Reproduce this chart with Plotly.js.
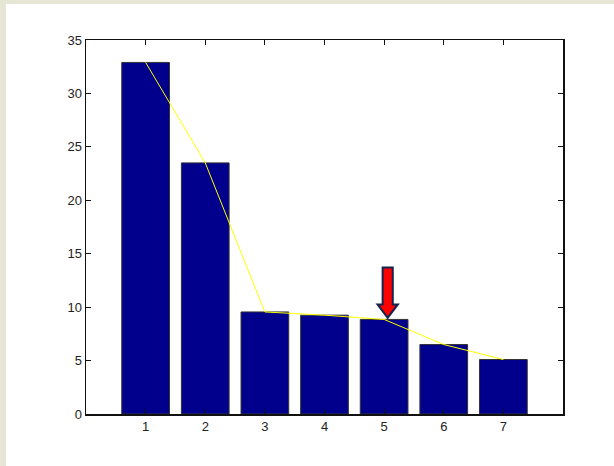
<!DOCTYPE html>
<html>
<head>
<meta charset="utf-8">
<script src="https://cdn.plot.ly/plotly-3.0.1.min.js"></script>
<style>
  html, body { margin: 0; padding: 0; background: #e6e6d4; width: 614px; height: 466px; overflow: hidden; }
  #chart { position: absolute; left: 6px; top: 4px; width: 608px; height: 462px; background: #ffffff; }
</style>
</head>
<body>
<div id="chart"></div>
<script>
// Data
const categories = [1, 2, 3, 4, 5, 6, 7];
const values = [32.9, 23.5, 9.55, 9.25, 8.85, 6.5, 5.1];
const xTicks = [1, 2, 3, 4, 5, 6, 7];
const yTicks = [0, 5, 10, 15, 20, 25, 30, 35];

// Arrow annotation (pointing at bar 5)
const arrowX = 5.06;
const arrowTip = 9.0;
const arrowHeadBase = 10.25;
const arrowTop = 13.7;
const shaftHalf = 0.085;
const headHalf = 0.17;

const arrowPath = 'M ' + (arrowX - shaftHalf) + ',' + arrowTop +
  ' L ' + (arrowX + shaftHalf) + ',' + arrowTop +
  ' L ' + (arrowX + shaftHalf) + ',' + arrowHeadBase +
  ' L ' + (arrowX + headHalf) + ',' + arrowHeadBase +
  ' L ' + arrowX + ',' + arrowTip +
  ' L ' + (arrowX - headHalf) + ',' + arrowHeadBase +
  ' L ' + (arrowX - shaftHalf) + ',' + arrowHeadBase + ' Z';

const traces = [
  {
    type: 'bar',
    x: categories,
    y: values,
    width: 0.8,
    marker: { color: 'rgb(0,0,140)', line: { color: '#333333', width: 1 } },
    hoverinfo: 'x+y'
  },
  {
    type: 'scatter',
    mode: 'lines',
    x: categories,
    y: values,
    line: { color: 'rgb(255,255,0)', width: 1 },
    hoverinfo: 'skip'
  }
];

const axisFont = { family: 'Liberation Sans, Arial, sans-serif', size: 13, color: '#222222' };

const layout = {
  width: 608,
  height: 462,
  margin: { l: 80, r: 51, t: 35.5, b: 51.5 },
  paper_bgcolor: '#ffffff',
  plot_bgcolor: '#ffffff',
  showlegend: false,
  bargap: 0,
  xaxis: {
    range: [0, 8],
    tickmode: 'array',
    tickvals: xTicks,
    ticktext: xTicks.map(String),
    ticks: 'inside',
    ticklen: 5,
    tickcolor: '#111',
    showline: true,
    linecolor: '#111',
    linewidth: 1.5,
    mirror: 'ticks',
    showgrid: false,
    zeroline: false,
    tickfont: axisFont,
    fixedrange: true
  },
  yaxis: {
    range: [0, 35],
    tickmode: 'array',
    tickvals: yTicks,
    ticktext: yTicks.map(String),
    ticks: 'inside',
    ticklen: 5,
    tickcolor: '#111',
    showline: true,
    linecolor: '#111',
    linewidth: 1.5,
    mirror: 'ticks',
    showgrid: false,
    zeroline: false,
    tickfont: axisFont,
    fixedrange: true
  },
  shapes: [
    {
      type: 'path',
      xref: 'x',
      yref: 'y',
      path: arrowPath,
      fillcolor: '#ff0000',
      line: { color: '#13254f', width: 2 },
      layer: 'above'
    }
  ]
};

Plotly.newPlot('chart', traces, layout, { displayModeBar: false, staticPlot: true });
</script>
</body>
</html>
